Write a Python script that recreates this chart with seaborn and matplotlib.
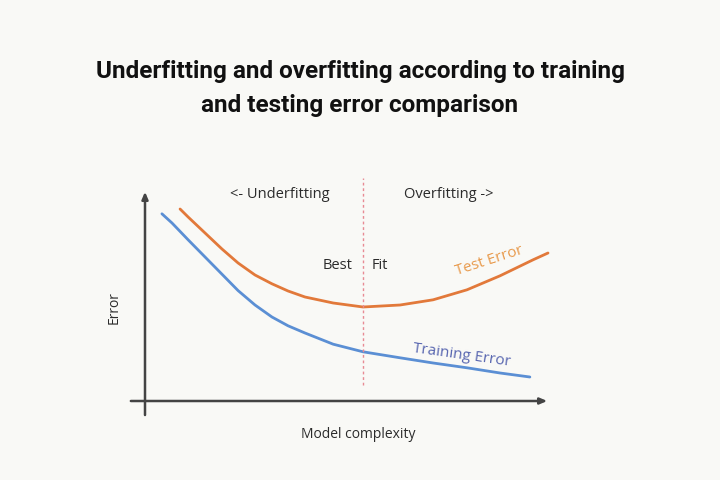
import matplotlib
matplotlib.use("Agg")
import matplotlib.pyplot as plt
import seaborn as sns
import pandas as pd

# Data (model complexity vs error, arbitrary units)
test_complexity = [0.87, 1.07, 1.49, 1.91, 2.31, 2.73, 3.15, 3.55, 3.97, 4.67, 5.41,
                   6.33, 7.15, 7.99, 8.81, 9.63, 10.0]
test_error = [4.80, 4.60, 4.20, 3.80, 3.45, 3.15, 2.93, 2.75, 2.60, 2.45, 2.35,
              2.40, 2.53, 2.78, 3.13, 3.53, 3.70]
train_complexity = [0.42, 0.67, 1.07, 1.49, 1.91, 2.31, 2.73, 3.15, 3.55, 3.97, 4.67,
                    5.41, 6.33, 7.15, 7.99, 8.81, 9.55]
train_error = [4.68, 4.45, 4.03, 3.60, 3.17, 2.76, 2.40, 2.10, 1.88, 1.70, 1.42,
               1.23, 1.08, 0.95, 0.83, 0.70, 0.60]
best_fit_complexity = 5.41

title_text = "Underfitting and overfitting according to training\nand testing error comparison"

sns.set_theme(style="white")
plt.rcParams['font.family'] = ['Open Sans', 'DejaVu Sans']

BG = "#f9f9f6"
ORANGE = "#e2793a"
BLUE = "#5b8fd4"

fig = plt.figure(figsize=(7.2, 4.8), dpi=100, facecolor=BG)
ax = fig.add_axes([0, 0, 1, 1])
ax.set_facecolor(BG)
ax.set_xlim(-3.598, 14.268)
ax.set_ylim(-1.975, 10.025)
ax.axis("off")

test_df = pd.DataFrame({"complexity": test_complexity, "error": test_error})
train_df = pd.DataFrame({"complexity": train_complexity, "error": train_error})
sns.lineplot(data=test_df, x="complexity", y="error", ax=ax, color=ORANGE, lw=2.0, sort=False)
sns.lineplot(data=train_df, x="complexity", y="error", ax=ax, color=BLUE, lw=2.0, sort=False)

# axes arrows
ax.annotate("", xy=(0, 5.3), xytext=(0, -0.42),
            arrowprops=dict(arrowstyle="-|>,head_length=0.35,head_width=0.15", color="#444444", lw=1.8))
ax.annotate("", xy=(10.05, 0), xytext=(-0.42, 0),
            arrowprops=dict(arrowstyle="-|>,head_length=0.35,head_width=0.15", color="#444444", lw=1.8))

# best fit line
ax.plot([best_fit_complexity, best_fit_complexity], [0.4, 5.58], color="#e88a94",
        lw=1.0, ls=(0, (2, 2)))

txt_color = "#2b2b2b"
ax.text(3.35, 5.15, "<- Underfitting", ha="center", va="center", fontsize=10.5, color=txt_color)
ax.text(7.54, 5.15, "Overfitting ->", ha="center", va="center", fontsize=10.5, color=txt_color)
ax.text(4.79, 3.38, "Best", ha="center", va="center", fontsize=10.5, color=txt_color)
ax.text(5.83, 3.38, "Fit", ha="center", va="center", fontsize=10.5, color=txt_color)
ax.text(8.54, 3.50, "Test Error", ha="center", va="center", fontsize=11, color="#e89a4c",
        rotation=18)
ax.text(7.87, 1.15, "Training Error", ha="center", va="center", fontsize=11, color="#5866b0",
        rotation=-8)
ax.text(-0.77, 2.33, "Error", ha="center", va="center", fontsize=10, color=txt_color, rotation=90)
ax.text(5.29, -0.85, "Model complexity", ha="center", va="center", fontsize=10, color=txt_color)

fig.text(0.5, 0.815, title_text, ha="center", va="center", fontsize=17.5, fontweight="bold",
         color="#111111", linespacing=1.6, family=['Roboto', 'DejaVu Sans'])

fig.savefig("out.png", dpi=100, facecolor=BG)
